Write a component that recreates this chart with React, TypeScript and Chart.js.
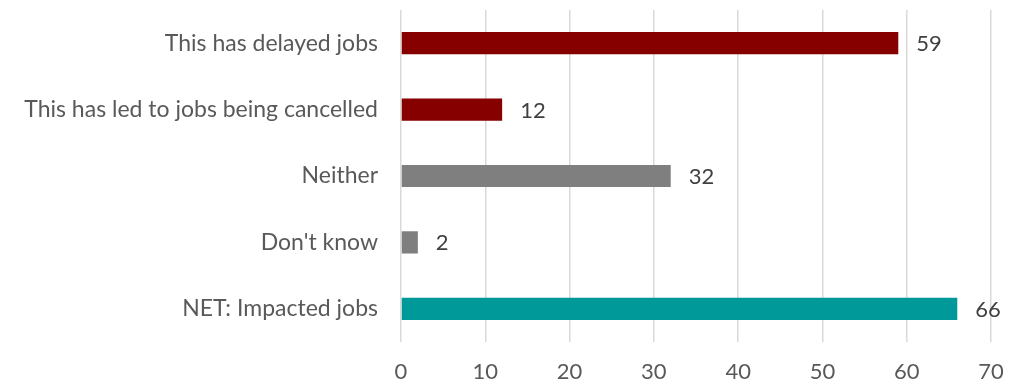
import React, { useEffect, useRef } from "react";
import { Chart, registerables } from "chart.js";

Chart.register(...registerables);

const categories = [
  "This has delayed jobs",
  "This has led to jobs being cancelled",
  "Neither",
  "Don't know",
  "NET: Impacted jobs",
];
const values = [59, 12, 32, 2, 66];
const barColors = ["#860000", "#860000", "#7f7f7f", "#7f7f7f", "#009999"];
const xTicks = [0, 10, 20, 30, 40, 50, 60, 70];

const FONT = "Lato, 'Open Sans', sans-serif";

const valueLabels = {
  id: "valueLabels",
  afterDatasetsDraw(chart: any) {
    const ctx = chart.ctx;
    const meta = chart.getDatasetMeta(0);
    ctx.save();
    ctx.font = `22px ${FONT}`;
    ctx.fillStyle = "#404040";
    ctx.textAlign = "left";
    ctx.textBaseline = "middle";
    meta.data.forEach((bar: any, i: number) => {
      ctx.fillText(String(values[i]), bar.x + 18, bar.y + 1);
    });
    ctx.restore();
  },
};

export default function App() {
  const ref = useRef<HTMLCanvasElement>(null);
  useEffect(() => {
    document.body.style.margin = "0";
    const chart = new Chart(ref.current!, {
      type: "bar",
      data: {
        labels: categories,
        datasets: [
          {
            data: values,
            backgroundColor: barColors,
            categoryPercentage: 1,
            barPercentage: 0.335,
          },
        ],
      },
      options: {
        indexAxis: "y",
        animation: false,
        responsive: false,
        maintainAspectRatio: false,
        layout: { padding: { top: 10, right: 33, left: 0, bottom: 0 } },
        plugins: { legend: { display: false }, tooltip: { enabled: false } },
        scales: {
          x: {
            min: 0,
            max: 70,
            afterBuildTicks: (axis: any) => {
              axis.ticks = xTicks.map((v) => ({ value: v }));
            },
            grid: { color: "#d9d9d9", lineWidth: 1.5, drawTicks: false },
            border: { display: false },
            ticks: {
              color: "#595959",
              font: { family: FONT, size: 22 },
              padding: 17,
            },
            afterFit: (axis: any) => {
              axis.height = 41;
              axis.paddingLeft = 0;
              axis.paddingRight = 0;
            },
          },
          y: {
            grid: { display: false },
            border: { display: false },
            ticks: {
              color: "#595959",
              font: { family: FONT, size: 23 },
              padding: 15,
            },
            afterFit: (axis: any) => {
              axis.width = 401;
              axis.paddingTop = 0;
              axis.paddingBottom = 0;
            },
          },
        },
      },
      plugins: [valueLabels],
    });
    return () => chart.destroy();
  }, []);
  return (
    <div style={{ width: 1024, height: 383 }}>
      <canvas ref={ref} width={1024} height={383} />
    </div>
  );
}
